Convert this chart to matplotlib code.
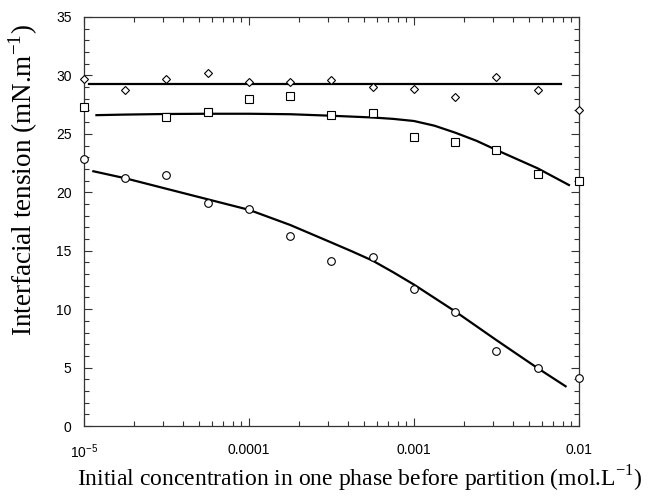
import matplotlib
matplotlib.use("Agg")
import matplotlib.pyplot as plt
from matplotlib.ticker import NullFormatter

plt.rcParams['mathtext.fontset'] = 'custom'
plt.rcParams['mathtext.rm'] = 'Liberation Serif'
plt.rcParams['mathtext.sf'] = 'Liberation Sans'

# measured points (mol/L, mN/m)
conc = [1e-5, 1.78e-5, 3.16e-5, 5.62e-5, 1e-4, 1.78e-4, 3.16e-4,
        5.62e-4, 1e-3, 1.78e-3, 3.16e-3, 5.62e-3, 1e-2]
tension_diamond = [29.7, 28.75, 29.7, 30.2, 29.45, 29.4, 29.6,
                   29.0, 28.8, 28.15, 29.85, 28.75, 27.0]
conc_square = [1e-5, 3.16e-5, 5.62e-5, 1e-4, 1.78e-4, 3.16e-4,
               5.62e-4, 1e-3, 1.78e-3, 3.16e-3, 5.62e-3, 1e-2]
tension_square = [27.3, 26.4, 26.9, 28.0, 28.2, 26.6,
                  26.75, 24.7, 24.3, 23.6, 21.6, 21.0]
tension_circle = [22.85, 21.2, 21.5, 19.05, 18.55, 16.3, 14.1,
                  14.45, 11.7, 9.75, 6.4, 5.0, 4.1]

# fitted curves
fit_diamond_x = [1.08e-5, 7.8e-3]
fit_diamond_y = [29.25, 29.25]
fit_square_x = [1.19e-5, 1.78e-5, 3.16e-5, 5.62e-5, 1e-4, 1.78e-4, 3.16e-4,
                5.62e-4, 7.5e-4, 1e-3, 1.33e-3, 1.78e-3, 2.4e-3, 3.16e-3,
                5.62e-3, 8.7e-3]
fit_square_y = [26.6, 26.65, 26.7, 26.72, 26.72, 26.68, 26.55,
                26.4, 26.28, 26.1, 25.7, 25.1, 24.4, 23.62,
                22.05, 20.62]
fit_circle_x = [1.14e-5, 1.78e-5, 3.16e-5, 5.62e-5, 1e-4, 1.78e-4, 3.16e-4,
                4.2e-4, 5.62e-4, 7.5e-4, 1e-3, 1.78e-3, 3.16e-3, 5.62e-3, 8.3e-3]
fit_circle_y = [21.8, 21.2, 20.3, 19.4, 18.5, 17.2, 15.7,
                14.95, 14.15, 13.15, 12.1, 9.8, 7.35, 4.95, 3.4]

xtick_pos = [1e-5, 1e-4, 1e-3, 1e-2]
xtick_labels = [r'$\mathsf{10^{-5}}$', '0.0001', '0.001', '0.01']

fig = plt.figure(figsize=(6.53, 5.0), dpi=100)
ax = fig.add_axes([0.1286, 0.148, 0.758, 0.818])

# fitted lines
ax.plot(fit_diamond_x, fit_diamond_y, color='black', lw=1.6)
ax.plot(fit_square_x, fit_square_y, color='black', lw=1.6)
ax.plot(fit_circle_x, fit_circle_y, color='black', lw=1.6)

# data markers
mk = dict(linestyle='none', mfc='white', mec='black', mew=0.8, clip_on=False, zorder=3)
ax.plot(conc, tension_diamond, marker='D', ms=4.4, **mk)
ax.plot(conc_square, tension_square, marker='s', ms=6, **mk)
ax.plot(conc, tension_circle, marker='o', ms=5.5, **mk)

ax.set_xscale('log')
ax.set_xlim(1e-5, 1e-2)
ax.set_ylim(0, 35)
ax.set_xticks(xtick_pos)
ax.set_xticklabels(xtick_labels, fontfamily='Liberation Sans', fontsize=10)
ax.xaxis.set_minor_formatter(NullFormatter())
ax.set_yticks(range(0, 36, 5))
ax.set_yticks(range(0, 36, 1), minor=True)
for lab in ax.get_yticklabels():
    lab.set_fontfamily('Liberation Sans')
    lab.set_fontsize(10)

ax.tick_params(which='both', direction='in', top=True, right=True,
               color='#333333', width=0.8)
ax.tick_params(which='major', length=6)
ax.tick_params(which='minor', length=3.5)
ax.tick_params(axis='x', which='major', pad=12)
ax.tick_params(axis='y', which='major', pad=9)
for sp in ax.spines.values():
    sp.set_color('#333333')
    sp.set_linewidth(0.9)

ax.set_ylabel(r'Interfacial tension (mN.m$^{\mathrm{-1}}$)',
              fontfamily='Liberation Serif', fontsize=19.5, va='center')
ax.yaxis.set_label_coords(-0.122, 0.601)
ax.set_xlabel(r'Initial concentration in one phase before partition (mol.L$^{\mathrm{-1}}$)',
              fontfamily='Liberation Serif', fontsize=17, va='center')
ax.xaxis.set_label_coords(0.556, -0.13)

fig.savefig('out.png', dpi=100)
